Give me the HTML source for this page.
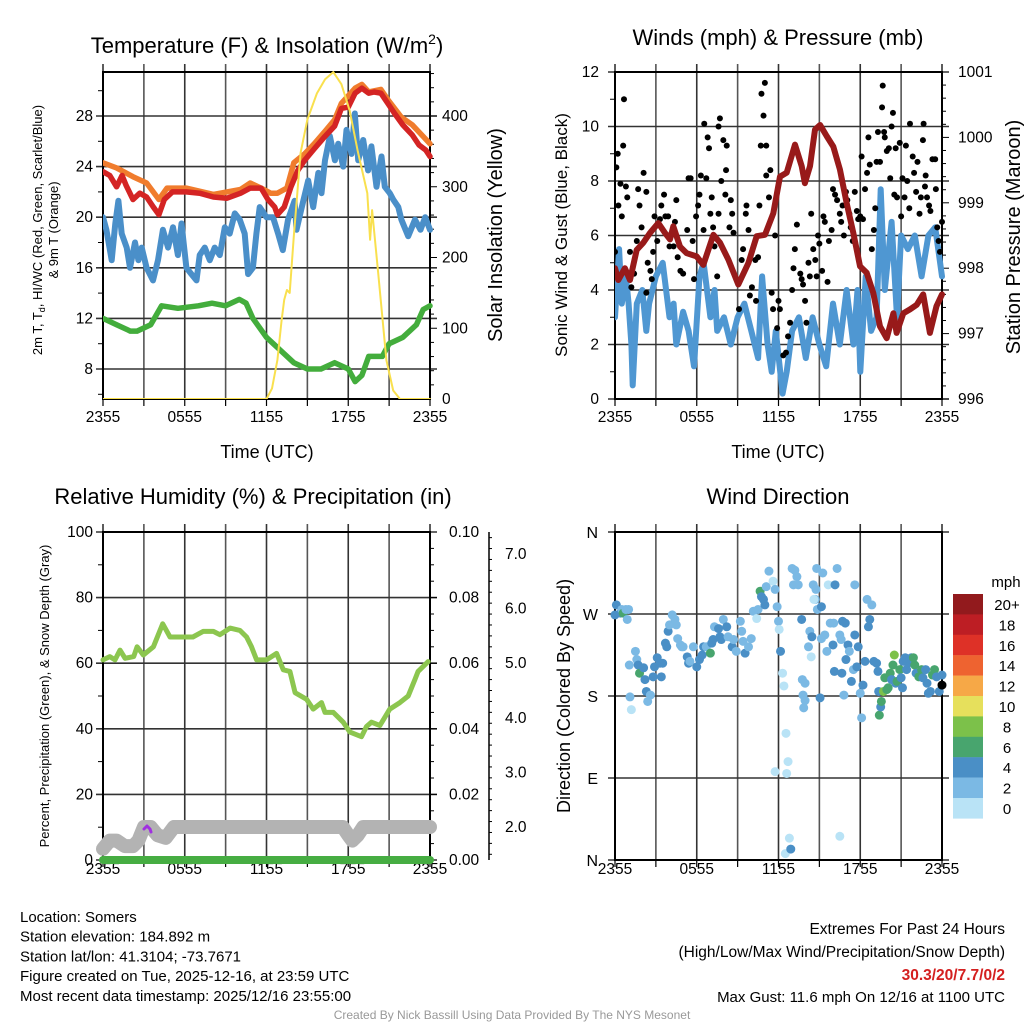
<!DOCTYPE html>
<html><head><meta charset="utf-8"><style>
html,body{margin:0;padding:0;background:#fff;}
svg{display:block;font-family:"Liberation Sans",sans-serif;}
</style></head><body>
<svg id="c" width="1024" height="1024" viewBox="0 0 1024 1024" xmlns="http://www.w3.org/2000/svg">
<g id="g"></g>
</svg>
<script>
// ---------- DATA ----------
const tempRedT=[0,0.5,1,1.4,1.7,2.2,2.7,3.2,3.7,4.1,4.5,5.1,6.1,7.1,8.1,9.1,10.1,10.8,11.6,12.1,12.6,12.8,13.3,13.8,14.3,14.8,15.5,16.3,17.0,17.5,18.0,18.5,19.0,19.5,19.9,20.4,20.9,21.4,22.0,22.7,23.2,23.7,24.0];
const tempRed=[23.6,23.3,22.4,23.3,22.5,21.4,21.9,21.6,20.8,20.2,21.4,22.0,22.0,21.9,21.6,21.5,21.9,22.3,22.3,21.4,20.8,20.2,20.8,22.4,23.7,24.5,25.4,26.4,27.2,28.6,28.7,29.8,30.2,29.8,29.9,29.8,29.0,28.2,27.3,26.5,25.7,25.3,24.8];
const temp9mT=[0,1,2.2,3.2,4.1,4.7,6.1,8.1,10.1,10.8,11.6,12.3,12.8,13.5,14.0,14.8,15.5,16.3,17.0,17.5,18.5,19.0,19.5,20.4,20.9,21.9,22.7,23.4,24.0];
const temp9m=[24.3,23.9,23.2,22.7,21.4,22.3,22.3,21.8,22.2,22.7,22.3,21.9,21.9,22.3,24.3,25.0,25.8,26.8,27.7,29.0,30.2,30.5,29.9,30.1,29.3,27.9,27.3,26.5,25.8];
const tempBlueT=[0,0.25,0.64,0.9,1.13,1.37,1.74,1.98,2.35,2.6,2.84,3.2,3.67,4.04,4.4,4.78,5.14,5.5,5.76,6.12,6.49,6.86,7.1,7.47,7.84,8.2,8.57,8.94,9.3,9.67,10.04,10.4,10.65,11.0,11.26,11.5,11.99,12.48,12.85,13.2,13.58,14.06,14.2,14.7,15.06,15.43,15.8,16.04,16.29,16.65,17.02,17.26,17.63,17.87,18.24,18.48,18.73,19.1,19.46,19.7,20.07,20.44,20.68,21.05,21.3,21.67,21.9,22.4,22.9,23.3,23.65,24.0];
const tempBlue=[20,19,16.6,19.5,21.3,18.7,17.6,16,18,16.6,17.6,16,15,16.6,19,17.6,19.2,17,19.5,16,15.5,15,17,17.6,16.6,17.6,17,19.2,18.7,20.3,19.8,18.7,15.5,16,18.7,20.8,20,20,18.7,17.4,19.8,21.3,19,21.3,22.9,20.8,23.5,21.9,24.5,26.4,24.5,25.8,24,26.9,25,28.2,24.5,26.1,23.7,25.6,22.4,24.8,22.4,21.9,21.4,20.8,19.8,18.5,19.8,19,20,19];
const dewT=[0,1,2,2.5,3.5,4.3,5.5,7,8,9,10,10.5,11,12,12.5,13,14,15,16,17,18,18.5,19,19.5,20.5,21,22,23,23.5,24];
const dew=[12,11.5,11,11,11.5,13,12.8,13,13.2,13,13.5,13.2,12,10.5,10,9.5,8.5,8,8,8.5,8,7,7.5,9,9,10,10.5,11.5,12.7,13];
const solarT=[0,12.0,12.4,12.8,13.1,13.3,13.5,13.7,14.0,14.5,15.0,15.7,16.3,16.9,17.5,18.1,18.7,19.4,19.6,19.75,20.2,20.8,21.3,21.8,24];
const solar=[0,0,15,55,110,140,154,150,230,348,395,432,452,462,445,408,350,291,225,267,178,55,12,0,0];
const windT=[0,0.3,0.5,0.8,1.0,1.2,1.3,1.6,2.0,2.3,2.5,3.0,3.5,4.0,4.3,4.5,5.0,5.4,5.8,6.2,6.5,7.0,7.3,7.5,8.0,8.5,9.0,9.5,10.0,10.5,10.8,11.2,11.5,11.8,12.3,12.6,13.0,13.5,14.0,14.5,15.0,15.5,16.0,16.5,17.0,17.5,17.8,18.0,18.4,18.8,19.2,19.5,19.8,20.3,20.7,21.0,21.5,22.0,22.5,23.0,23.5,24.0];
const wind=[3,5.5,3.5,4.5,3.5,2,0.5,3.5,4,2.5,3.5,4.5,5,3,3.5,2,3.2,2.5,1.2,4.5,5,3,4,2.5,3,2,3,3.5,2.5,1.5,4.5,2,1,2.5,0.2,1,2.5,3,1.5,3,2,1.2,3.5,2,4,2,4,1,4.5,2.5,3,7.7,4,6.5,3,6,5.5,6,4.5,6,6.3,4.5];
const gustT=[0,0.1,0.2,0.25,0.4,0.5,0.6,0.66,0.8,0.9,1.1,1.2,1.4,1.6,1.7,1.8,1.95,2.1,2.3,2.3,2.4,2.6,2.7,2.8,2.9,3.1,3.3,3.4,3.6,3.7,3.9,4.0,4.3,4.4,4.5,4.6,4.8,5.0,5.3,5.4,5.55,5.7,5.8,5.95,6.1,6.2,6.3,6.5,6.55,6.7,6.8,6.9,7.0,7.1,7.2,7.3,7.5,7.6,7.6,7.7,7.8,7.95,8.1,8.15,8.2,8.4,8.5,8.6,8.7,9.1,9.3,9.4,9.6,9.65,9.8,9.9,10.05,10.3,10.35,10.5,10.6,10.7,10.75,10.9,11.0,11.1,11.1,11.3,11.4,11.5,11.6,11.75,11.9,12.0,12.1,12.35,12.55,12.7,12.85,13.0,13.1,13.2,13.35,13.6,13.7,13.8,13.95,14.05,14.2,14.3,14.4,14.55,14.7,14.8,14.9,15.0,15.2,15.3,15.4,15.6,15.7,15.9,16.0,16.15,16.3,16.5,16.6,16.7,16.8,16.95,17.05,17.2,17.3,17.45,17.6,17.75,17.85,18.0,18.1,18.2,18.35,18.5,18.6,18.7,18.85,19.0,19.1,19.2,19.3,19.45,19.6,19.65,19.75,19.8,19.95,20.1,20.2,20.3,20.4,20.5,20.6,20.7,20.9,21.0,21.1,21.25,21.35,21.45,21.6,21.65,21.85,21.95,22.1,22.2,22.35,22.45,22.6,22.65,22.75,22.8,22.9,23.05,23.15,23.3,23.5,23.55,23.65,23.75,23.85,24.0];
const gust=[5.4,8.5,9,7.1,7.9,6.7,9.3,11,7.8,7.4,5.4,4.1,4.6,5.8,7.7,7.1,6.3,8.3,7.6,3.9,5.0,4.7,4.4,5.4,6.7,5.8,6.6,7.1,7.5,6.7,6.7,5.6,5.6,6.5,7.3,5.2,4.7,4.6,6.2,8.1,8.1,5.8,4.4,6.7,7.1,7.5,8.2,6.2,10.1,8.1,9.6,9.2,6.8,7.4,6.3,5.6,4.5,6.8,10.0,10.3,8.0,9.5,7.5,8.4,9.3,6.3,7.3,6.8,6.1,3.3,5.1,5.5,6.8,7.1,6.2,3.8,4.1,5.1,3.6,5.2,7.1,9.3,11.2,10.4,11.6,8.2,9.3,7.4,8.4,3.9,3.3,6.0,2.6,3.6,3.3,1.6,1.7,2.3,2.8,4.0,4.8,5.5,6.4,4.6,4.4,4.2,3.6,2.8,5.0,4.5,6.8,5.5,5.1,4.5,6.0,5.7,4.7,6.7,6.5,4.3,5.8,6.2,7.7,7.5,7.3,6.8,6.5,7.1,6.0,7.6,7.3,6.8,6.3,5.8,7.6,6.9,6.6,6.7,8.9,6.6,7.7,8.3,9.6,8.6,5.5,6.2,7.0,8.7,9.8,8.7,10.7,11.5,9.8,9.6,9.1,9.2,8.1,10.0,10.5,7.5,9.2,7.4,9.4,6.7,8.1,7.4,9.3,8.0,7.0,10.1,8.9,8.3,7.6,8.7,6.8,7.4,9.5,10.1,7.8,8.2,7.4,7.1,6.9,8.8,8.8,7.7,6.3,5.8,5.4,6.5];
const presT=[0,0.24,0.73,1.1,1.59,2.08,2.57,3.18,3.67,4.04,4.28,4.77,5.26,5.99,6.48,7.22,7.71,8.32,9.05,9.79,10.4,11.01,11.62,12.11,12.6,13.21,13.7,13.94,14.31,14.68,15.05,15.54,16.02,16.51,17.0,17.49,17.98,18.47,18.96,19.45,19.94,20.43,20.67,21.16,21.65,22.14,22.62,23.11,23.6,24.0];
const pres=[998.0,997.82,998.0,997.82,998.28,998.39,998.54,998.69,998.54,998.44,998.64,998.33,998.23,998.18,998.05,998.51,998.39,998.13,997.75,998.08,998.49,998.51,998.84,999.4,999.46,999.89,999.56,999.3,999.56,1000.12,1000.19,1000.02,999.86,999.51,999.0,998.54,998.03,997.93,997.62,997.11,996.93,997.31,997.01,997.31,997.37,997.44,997.6,997.01,997.42,997.6];
const rhT=[0,0.5,0.88,1.25,1.62,2.25,2.5,2.96,3.7,4.38,4.92,5.9,6.6,7.35,8.1,8.58,9.32,10.05,10.54,10.9,11.27,12.0,12.74,13.23,13.72,14.1,14.94,15.43,16.04,16.29,16.9,17.63,18.12,18.97,19.34,19.71,20.32,21.05,21.79,22.4,22.89,23.13,23.87];
const rh=[61,62,61,64,61.5,62,65,62.5,65,72,68,68,68,69.7,69.7,68.7,70.7,70,68,65,61,61,63,58,57.5,51,49,46,48,45,45,42,39,37.6,40.7,42,41,46,48,50,55,57.5,60.5];
const snowT=[0,0.5,1.0,1.6,2.2,2.6,3.0,3.5,4.0,4.6,5.2,6,10,14,17.6,18.0,18.3,18.7,19.1,20,24];
const snow=[1.6,1.75,1.75,1.65,1.65,1.75,2.0,2.0,1.85,1.8,2.0,2.0,2.0,2.0,2.0,1.85,1.75,1.85,2.0,2.0,2.0];
const precipT=[0,24];
const precip=[0,0];
const dirT=[0,0.1,0.4,0.5,0.6,0.8,1.0,0.9,1.05,1.5,1.6,1.7,1.8,2.1,2.2,1.1,1.2,2.3,2.4,2.6,2.8,2.9,3.1,3.3,3.4,3.5,3.7,3.8,3.9,4.0,4.2,4.4,4.5,4.6,4.8,4.9,5.0,5.3,5.4,5.5,5.75,6.0,6.2,6.4,6.5,6.7,7.0,7.1,7.2,7.3,7.6,7.7,7.8,7.95,8.2,8.3,8.6,8.7,8.9,9.2,9.3,9.4,9.55,9.8,10.0,10.15,10.4,10.5,10.65,10.75,10.9,11.0,11.1,11.3,11.6,11.75,11.9,12.0,12.05,12.15,12.3,12.4,12.55,12.7,12.6,11.75,12.5,12.8,12.9,13.0,13.2,13.35,13.1,13.45,13.7,13.75,13.95,13.8,13.95,13.85,14.2,14.3,14.45,14.55,14.7,14.75,14.6,14.8,14.85,15.15,15.25,15.05,14.4,15.15,15.4,15.55,15.65,15.8,16.05,16.0,16.1,16.15,16.3,16.5,16.5,16.6,16.65,16.7,16.8,16.9,16.95,17.1,17.2,17.35,17.5,17.6,17.6,17.75,17.85,18.0,18.1,18.2,18.35,18.5,18.6,18.7,18.85,19.0,19.2,19.3,19.35,19.4,19.5,19.55,19.7,19.8,19.95,20.05,20.2,20.3,20.4,20.5,20.6,20.7,20.9,21.0,21.1,21.15,21.3,21.4,21.5,21.65,21.75,21.9,22.0,22.1,22.3,22.5,22.6,22.8,22.9,23.0,23.15,23.3,23.45,23.6,23.8,24.0,24.0];
const dirDeg=[269,280,271,275,271,275,275,264,214,229,220,214,205,211,198,179,165,185,174,181,201,212,222,216,201,216,238,234,251,258,269,264,258,243,236,234,234,223,216,218,234,212,220,225,234,234,227,238,242,256,254,245,242,264,256,245,234,242,229,262,251,240,227,234,243,273,265,275,295,289,286,280,300,317,306,297,278,262,253,229,205,191,139,108,95,97,7,24,12,320,318,311,302,302,264,198,194,181,175,167,234,251,245,302,286,297,286,320,275,278,315,178,223,243,247,229,302,260,260,236,207,302,320,26,247,242,205,262,181,260,220,236,229,196,209,247,302,212,234,183,156,192,218,286,256,264,280,218,216,207,185,159,168,174,185,200,187,189,205,198,214,225,194,196,209,200,189,218,222,209,216,220,222,222,214,205,201,209,200,209,194,183,185,203,209,201,185,203,192];
const dirSpd=[4,4,4,2,6,2,2,2,2,2,2,4,6,4,4,2,0,4,2,2,4,4,4,4,4,4,4,4,4,2,2,2,2,2,2,2,2,4,4,2,2,4,4,4,4,2,6,4,4,2,4,4,4,2,4,2,4,2,2,2,2,2,4,2,2,2,0,2,6,4,4,4,2,2,0,2,2,2,0,4,0,0,0,0,0,0,0,0,4,2,2,2,2,2,4,2,2,2,2,2,2,2,4,2,2,2,0,2,2,4,2,4,0,2,2,2,0,2,2,4,4,4,2,0,2,2,4,4,2,4,4,4,2,4,2,4,2,4,4,2,2,4,4,2,4,4,2,4,4,4,4,6,4,6,8,6,6,6,6,4,6,8,4,6,6,4,4,4,4,4,4,4,4,6,6,4,6,6,4,4,4,4,4,6,6,4,4,4];
const cbarLabels=["20+","18","16","14","12","10","8","6","4","2","0"];
const cbarColors=["#921a1d","#bd1e24","#de3127","#ee6330","#f6a847","#e6e05c","#7cc14a","#48a56e","#4a8fc6","#7bb9e4","#b9e3f6"];
const xTickLabels=["2355","0555","1155","1755","2355"];
const tempTicks=[8,12,16,20,24,28];
const solarTicks=[0,100,200,300,400];
const windTicks=[0,2,4,6,8,10,12];
const presTicks=[996,997,998,999,1000,1001];
const rhTicks=[0,20,40,60,80,100];
const prTicks=["0.00","0.02","0.04","0.06","0.08","0.10"];
const snowTicks=["2.0","3.0","4.0","5.0","6.0","7.0"];
const dirTicks=["N","E","S","W","N"];

// ---------- helpers ----------
const NS="http://www.w3.org/2000/svg";
const G=document.getElementById('g');
const TF=15.5;
function el(tag,attrs,parent,txt){const e=document.createElementNS(NS,tag);for(const k in attrs)e.setAttribute(k,attrs[k]);if(txt!==undefined)e.textContent=txt;(parent||G).appendChild(e);return e;}
function grp(name){const e=el('g',{});


return e;}
function path(ts,vs,fx,fy){let d='';for(let i=0;i<ts.length;i++){d+=(i?'L':'M')+fx(ts[i]).toFixed(1)+','+fy(vs[i]).toFixed(1);}return d;}
function line(p,x1,y1,x2,y2,c,w){return el('line',{x1:x1,y1:y1,x2:x2,y2:y2,stroke:c,'stroke-width':w},p);}
function txt(p,x,y,s,size,anchor,extra){const a=Object.assign({x:x,y:y,'font-size':size,'text-anchor':anchor||'middle',fill:'#000'},extra||{});return el('text',a,p,s);}

function panelFrame(p,X0,X1,Y0,Y1,hTicksY){
  for(let i=0;i<=8;i++){const x=X0+i*(X1-X0)/8;line(p,x,Y0-8,x,Y1,i%2?'#555':'#333',1.6);line(p,x,Y1,x,Y1+7,'#000',1.2);}
  hTicksY.forEach(y=>line(p,X0-7,y,X1+7,y,'#333',1.6));
  el('rect',{x:X0,y:Y0,width:X1-X0,height:Y1-Y0,fill:'none',stroke:'#000','stroke-width':2},p);
}

// ================= PANEL 1: Temperature =================
{
 const X0=103,X1=430,Y0=72,Y1=399;
 const xs=t=>X0+t/24*(X1-X0), yT=v=>369-(v-8)*12.65, yS=v=>399-v*0.7075;
 const p=grp('temperature-panel');
 const tt=txt(p,267,53,'',22,'middle');
 
 tt.innerHTML='Temperature (F) &amp; Insolation (W/m<tspan font-size="14" dy="-9">2</tspan><tspan dy="9">)</tspan>';
 panelFrame(p,X0,X1,Y0,Y1,tempTicks.map(yT));
 for(let v=6;v<=30;v+=2){if(v%4)line(p,X0-5,yT(v),X0,yT(v),'#000',1);}
 for(let v=20;v<=460;v+=20){line(p,X1,yS(v),X1+(v%100?4:7),yS(v),'#000',1);}
 tempTicks.forEach(v=>{txt(p,93,yT(v)+5,String(v),TF,'end');});
 solarTicks.forEach(v=>{txt(p,442,yS(v)+5,String(v),TF,'start');});
 xTickLabels.forEach((s,i)=>{txt(p,X0+i*(X1-X0)/4,422,s,TF);});
 txt(p,267,458,'Time (UTC)',18);
 const yl=el('text',{transform:'translate(42,230) rotate(-90)','font-size':13,'text-anchor':'middle'},p);
 
 
 yl.innerHTML='2m T, T<tspan font-size="9" dy="3">d</tspan><tspan dy="-3">, HI/WC (Red, Green, Scarlet/Blue)</tspan>';
 const yl2=el('text',{transform:'translate(58,230) rotate(-90)','font-size':13,'text-anchor':'middle'},p,'& 9m T (Orange)');
 
 
 const yr=el('text',{transform:'translate(502,235) rotate(-90)','font-size':20,'text-anchor':'middle'},p,'Solar Insolation (Yellow)');
 
 
 const cl=el('clipPath',{id:'cp1'},p);el('rect',{x:X0,y:Y0-4,width:X1-X0+3,height:Y1-Y0+4},cl);
 const s=el('g',{'clip-path':'url(#cp1)','stroke-linejoin':'round','stroke-linecap':'round',fill:'none'},p);
 let e;
 e=el('path',{d:path(dewT,dew,xs,yT),stroke:'#43ad3c','stroke-width':5.5},s);
 
 e=el('path',{d:path(tempBlueT,tempBlue,xs,yT),stroke:'#4a8fc9','stroke-width':6},s);
 
 e=el('path',{d:path(temp9mT,temp9m,xs,yT),stroke:'#f07c2d','stroke-width':5.5},s);
 
 e=el('path',{d:path(tempRedT,tempRed,xs,yT),stroke:'#d42424','stroke-width':5.5},s);
 
 e=el('path',{d:path(solarT,solar,xs,yS),stroke:'#f9e04e','stroke-width':2},s);
 
}

// ================= PANEL 2: Winds =================
{
 const X0=615,X1=942,Y0=72,Y1=399;
 const xs=t=>X0+t/24*(X1-X0), yW=v=>399-v*27.25, yP=v=>399-(v-996)*65.4;
 const p=grp('wind-panel');
 txt(p,778,45,'Winds (mph) & Pressure (mb)',22);
 panelFrame(p,X0,X1,Y0,Y1,windTicks.map(yW));
 for(let v=1;v<12;v+=2)line(p,X0-5,yW(v),X0,yW(v),'#000',1);
 for(let v=996;v<=1001;v+=0.2)line(p,X1,yP(v),X1+(Math.abs(v-Math.round(v))<0.01?7:4),yP(v),'#000',1);
 windTicks.forEach(v=>{txt(p,599,yW(v)+5,String(v),TF,'end');});
 presTicks.forEach(v=>{txt(p,958,yP(v)+5,String(v),TF,'start');});
 xTickLabels.forEach((s,i)=>{txt(p,X0+i*(X1-X0)/4,422,s,TF);});
 txt(p,778,458,'Time (UTC)',18);
 let t=el('text',{transform:'translate(567,235) rotate(-90)','font-size':17,'text-anchor':'middle'},p,'Sonic Wind & Gust (Blue, Black)');
 
 
 t=el('text',{transform:'translate(1020,237) rotate(-90)','font-size':20,'text-anchor':'middle'},p,'Station Pressure (Maroon)');
 
 
 const cl=el('clipPath',{id:'cp2'},p);el('rect',{x:X0,y:Y0,width:X1-X0+3,height:Y1-Y0},cl);
 const s=el('g',{'clip-path':'url(#cp2)','stroke-linejoin':'round','stroke-linecap':'round',fill:'none'},p);
 let e=el('path',{d:path(windT,wind,xs,yW),stroke:'#4f97d2','stroke-width':6},s);
 
 const dots=el('g',{fill:'#000'},s);
 
 gustT.forEach((tt,i)=>{const c=el('circle',{cx:xs(tt),cy:yW(gust[i]),r:3},dots);
 
 });
 e=el('path',{d:path(presT,pres,xs,yP),stroke:'#981a1a','stroke-width':6},s);
 
}

// ================= PANEL 3: RH =================
{
 const X0=103,X1=430,Y0=532,Y1=860;
 const xs=t=>X0+t/24*(X1-X0), yR=v=>860-v*3.28, ySn=v=>827-(v-2)*54.6;
 const p=grp('humidity-panel');
 txt(p,253,504,'Relative Humidity (%) & Precipitation (in)',22);
 panelFrame(p,X0,X1,Y0,Y1,rhTicks.map(yR));
 for(let v=10;v<100;v+=20)line(p,X0-5,yR(v),X0,yR(v),'#000',1);
 for(let v=5;v<100;v+=5)line(p,X1,yR(v),X1+(v%20?4:7),yR(v),'#000',1);
 rhTicks.forEach(v=>{txt(p,93,yR(v)+5,String(v),TF,'end');});
 prTicks.forEach((s,i)=>{txt(p,449,yR(i*20)+5,s,TF,'start');});
 const ax=line(p,489,Y0,489,Y1,'#000',1.5);
 
 for(let v=1.5;v<=7.4;v+=0.2){line(p,489,ySn(v),489+(Math.abs(v-Math.round(v))<0.01?6:3),ySn(v),'#000',1);}
 snowTicks.forEach((s,i)=>{txt(p,505,ySn(2+i)+5,s,TF,'start');});
 xTickLabels.forEach((s,i)=>{txt(p,X0+i*(X1-X0)/4,874,s,TF);});
 let t=el('text',{transform:'translate(49,696) rotate(-90)','font-size':13,'text-anchor':'middle'},p,'Percent, Precipitation (Green), & Snow Depth (Gray)');
 
 
 const s=el('g',{'stroke-linejoin':'round','stroke-linecap':'round',fill:'none'},p);
 let e=el('path',{d:path(snowT,snow,xs,ySn),stroke:'#b3b3b3','stroke-width':14},s);
 
 e=el('path',{d:'M144,829 L147,826 L150,829 L151,832',stroke:'#a030e0','stroke-width':3},s);
 
 e=el('path',{d:path(precipT,precip,xs,v=>860-v*3280),stroke:'#46ad42','stroke-width':8},s);
 
 e=el('path',{d:path(rhT,rh,xs,yR),stroke:'#8cc64f','stroke-width':5},s);
 
}

// ================= PANEL 4: Wind Direction =================
{
 const X0=615,X1=942,Y0=532,Y1=860;
 const xs=t=>X0+t/24*(X1-X0), yD=d=>860-d/360*328;
 const p=grp('direction-panel');
 txt(p,778,504,'Wind Direction',22);
 panelFrame(p,X0,X1,Y0,Y1,[0,90,180,270,360].map(yD));
 dirTicks.forEach((s,i)=>{txt(p,598,yD(i*90)+6,s,16,'end');});
 xTickLabels.forEach((s,i)=>{txt(p,X0+i*(X1-X0)/4,874,s,TF);});
 let t=el('text',{transform:'translate(570,696) rotate(-90)','font-size':18,'text-anchor':'middle'},p,'Direction (Colored By Speed)');
 
 
 const dots=el('g',{},p);
 
 dirT.forEach((tt,i)=>{const idx=10-Math.min(10,Math.floor(dirSpd[i]/2));
  const c=el('circle',{cx:xs(tt),cy:yD(dirDeg[i]),r:4.5,fill:cbarColors[idx]},dots);
  
  });
 const cb=grp('speed-colorbar');
 txt(cb,1006,587,'mph',15);
 cbarColors.forEach((c,i)=>{const r=el('rect',{x:953,y:594+i*20.4,width:30,height:20.6,fill:c},cb);
  
  
  txt(cb,1007,594+i*20.4+16,cbarLabels[i],15);});
}

// ================= Footer text =================
{
 const p=grp('station-info');
 ['Location: Somers','Station elevation: 184.892 m','Station lat/lon: 41.3104; -73.7671','Figure created on Tue, 2025-12-16, at 23:59 UTC','Most recent data timestamp: 2025/12/16 23:55:00'].forEach((s,i)=>{
  txt(p,20,922+i*19.7,s,15,'start');});
 const q=grp('extremes-info');
 txt(q,1005,934,'Extremes For Past 24 Hours',15.5,'end');
 txt(q,1005,957,'(High/Low/Max Wind/Precipitation/Snow Depth)',15.5,'end');
 txt(q,1005,980,'30.3/20/7.7/0/2',15.5,'end',{fill:'#d42020','font-weight':'bold'});
 txt(q,1005,1002,'Max Gust: 11.6 mph On 12/16 at 1100 UTC',15,'end');
 txt(G,512,1019,'Created By Nick Bassill Using Data Provided By The NYS Mesonet',12,'middle',{fill:'#999'});
}
</script>
</body></html>
